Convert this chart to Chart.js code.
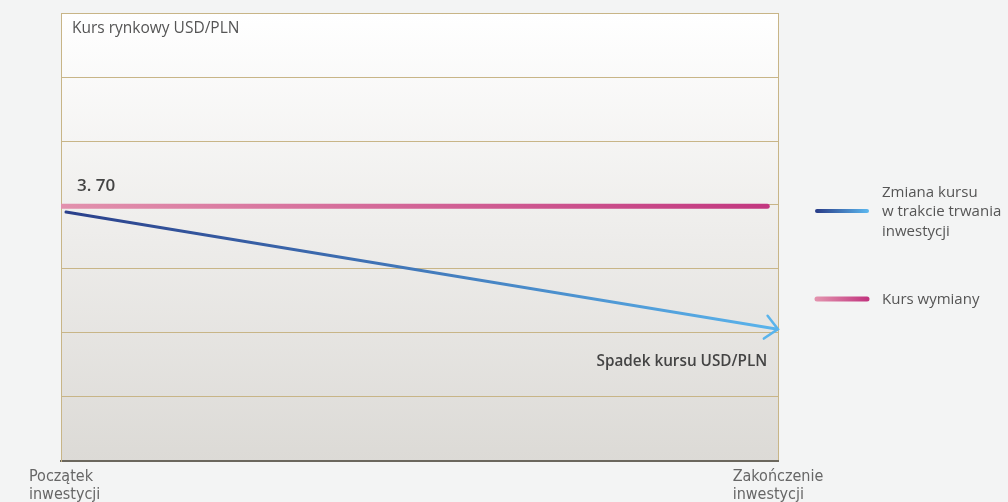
<!DOCTYPE html>
<html>
<head>
<meta charset="utf-8">
<script src="https://cdn.jsdelivr.net/npm/chart.js@4/dist/chart.umd.min.js"></script>
<style>
  html, body { margin: 0; padding: 0; background: #f3f4f4; }
  #wrap { width: 1008px; height: 502px; }
</style>
</head>
<body>
<div id="wrap"><canvas id="kursChart"></canvas></div>
<script>
// dane wykresu
const xLabels = [["Początek", "inwestycji"], ["Zakończenie", "inwestycji"]];
const xTicks = [0, 100];
const yTicks = [3.3, 3.4, 3.5, 3.6, 3.7, 3.8, 3.9, 4.0];
const kursWymianyX = [0, 98.5];
const kursWymiany = [3.698, 3.698];
const zmianaKursuX = [0.7, 100];
const zmianaKursu = [3.689, 3.506];
const seriesNames = [["Zmiana kursu", "w trakcie trwania", "inwestycji"], ["Kurs wymiany"]];

const FONT = "'Open Sans', 'Noto Sans', sans-serif";
const NARROW = "'Liberation Sans Narrow', 'DejaVu Sans Condensed', sans-serif";

function lineGradient(ctx, area, from, to) {
  const g = ctx.createLinearGradient(area.left, 0, area.right, 0);
  g.addColorStop(0, from);
  g.addColorStop(1, to);
  return g;
}

// tło obszaru wykresu + opisy + strzałka + legenda
const extrasPlugin = {
  id: "extras",
  beforeDraw(chart) {
    const { ctx, chartArea: a } = chart;
    const g = ctx.createLinearGradient(0, a.top, 0, a.bottom);
    g.addColorStop(0, "#ffffff");
    g.addColorStop(1, "#dcdad6");
    ctx.save();
    ctx.fillStyle = g;
    ctx.fillRect(a.left, a.top, a.right - a.left, a.bottom - a.top);
    ctx.restore();
  },
  afterDatasetsDraw(chart) {
    const { ctx, chartArea: a, scales } = chart;
    const x = scales.x, y = scales.y;
    ctx.save();

    // strzałka na końcu linii zmiany kursu
    const pts = chart.getDatasetMeta(0).data;
    const p0 = pts[pts.length - 2], p1 = pts[pts.length - 1];
    const ang = Math.atan2(p1.y - p0.y, p1.x - p0.x);
    const len = 17, spread = 0.75;
    ctx.strokeStyle = "#5ab4ec";
    ctx.lineWidth = 2.5;
    ctx.lineCap = "round";
    ctx.beginPath();
    ctx.moveTo(p1.x - len * Math.cos(ang - spread), p1.y - len * Math.sin(ang - spread));
    ctx.lineTo(p1.x, p1.y);
    ctx.lineTo(p1.x - len * Math.cos(ang + spread), p1.y - len * Math.sin(ang + spread));
    ctx.stroke();

    // teksty w obszarze wykresu
    ctx.textBaseline = "middle";
    ctx.fillStyle = "#555555";
    ctx.font = "15.5px " + FONT;
    ctx.textAlign = "left";
    ctx.fillText("Kurs rynkowy USD/PLN", a.left + 11, a.top + 16);

    ctx.fillStyle = "#444444";
    ctx.font = "600 17px " + FONT;
    ctx.fillText("3. 70", x.getPixelForValue(0) + 16, y.getPixelForValue(kursWymiany[0]) - 20);

    ctx.font = "600 15.3px " + FONT;
    ctx.textAlign = "right";
    ctx.fillText("Spadek kursu USD/PLN", x.getPixelForValue(kursWymianyX[1]), y.getPixelForValue(3.456));

    // etykiety osi X (wyrównane do lewej, jak w oryginale)
    ctx.fillStyle = "#666666";
    ctx.font = "16px " + NARROW;
    ctx.textAlign = "left";
    xTicks.forEach((v, i) => {
      const px = x.getPixelForValue(v);
      const lines = xLabels[i];
      const w = ctx.measureText(lines[0]).width;
      lines.forEach((t, k) => ctx.fillText(t, px - w / 2, a.bottom + 16 + k * 18));
    });

    // legenda
    const lx = a.right + 39, lw = 50, tx = a.right + 104;
    const legend = [
      { y: 211, from: "#2a3f8a", to: "#5ab4ec", w: 4 },
      { y: 299, from: "#e291ad", to: "#c2367f", w: 5 }
    ];
    legend.forEach((item, i) => {
      const g = ctx.createLinearGradient(lx, 0, lx + lw, 0);
      g.addColorStop(0, item.from);
      g.addColorStop(1, item.to);
      ctx.strokeStyle = g;
      ctx.lineWidth = item.w;
      ctx.beginPath();
      ctx.moveTo(lx, item.y);
      ctx.lineTo(lx + lw, item.y);
      ctx.stroke();
      const lines = seriesNames[i];
      ctx.fillStyle = "#555555";
      ctx.font = "15px " + FONT;
      ctx.textAlign = "left";
      const startY = item.y + 1 - (lines.length - 1) * 19.5 / 2;
      lines.forEach((t, k) => ctx.fillText(t, tx, startY + k * 19.5));
    });
    ctx.restore();
  }
};

new Chart(document.getElementById("kursChart"), {
  type: "line",
  data: {
    datasets: [
      {
        label: seriesNames[0].join(" "),
        data: zmianaKursuX.map((v, i) => ({ x: v, y: zmianaKursu[i] })),
        borderColor: (c) => c.chart.chartArea ? lineGradient(c.chart.ctx, c.chart.chartArea, "#2a3f8a", "#5ab4ec") : "#2a3f8a",
        borderWidth: 3,
        borderCapStyle: "round",
        pointRadius: 0,
        tension: 0
      },
      {
        label: seriesNames[1].join(" "),
        data: kursWymianyX.map((v, i) => ({ x: v, y: kursWymiany[i] })),
        borderColor: (c) => c.chart.chartArea ? lineGradient(c.chart.ctx, c.chart.chartArea, "#e291ad", "#c2367f") : "#c2367f",
        borderWidth: 5,
        borderCapStyle: "round",
        pointRadius: 0,
        tension: 0
      }
    ]
  },
  options: {
    responsive: true,
    maintainAspectRatio: false,
    animation: false,
    layout: { padding: { left: 61, right: 230, top: 13, bottom: 0 } },
    plugins: { legend: { display: false }, tooltip: { enabled: false } },
    scales: {
      x: {
        type: "linear",
        min: 0,
        max: 100,
        afterBuildTicks: (s) => { s.ticks = xTicks.map((v) => ({ value: v })); },
        afterFit: (s) => { s.height = 41; },
        grid: { color: "#c8b587", lineWidth: 1, drawTicks: false },
        border: { color: "#6b675d", width: 2 },
        ticks: { display: false }
      },
      y: {
        min: yTicks[0],
        max: yTicks[yTicks.length - 1],
        afterBuildTicks: (s) => { s.ticks = yTicks.map((v) => ({ value: v })); },
        afterFit: (s) => { s.width = 0; },
        grid: { color: "#c8b587", lineWidth: 1, drawTicks: false },
        border: { color: "#c8b587", width: 1 },
        ticks: { display: false }
      }
    }
  },
  plugins: [extrasPlugin]
});
</script>
</body>
</html>
